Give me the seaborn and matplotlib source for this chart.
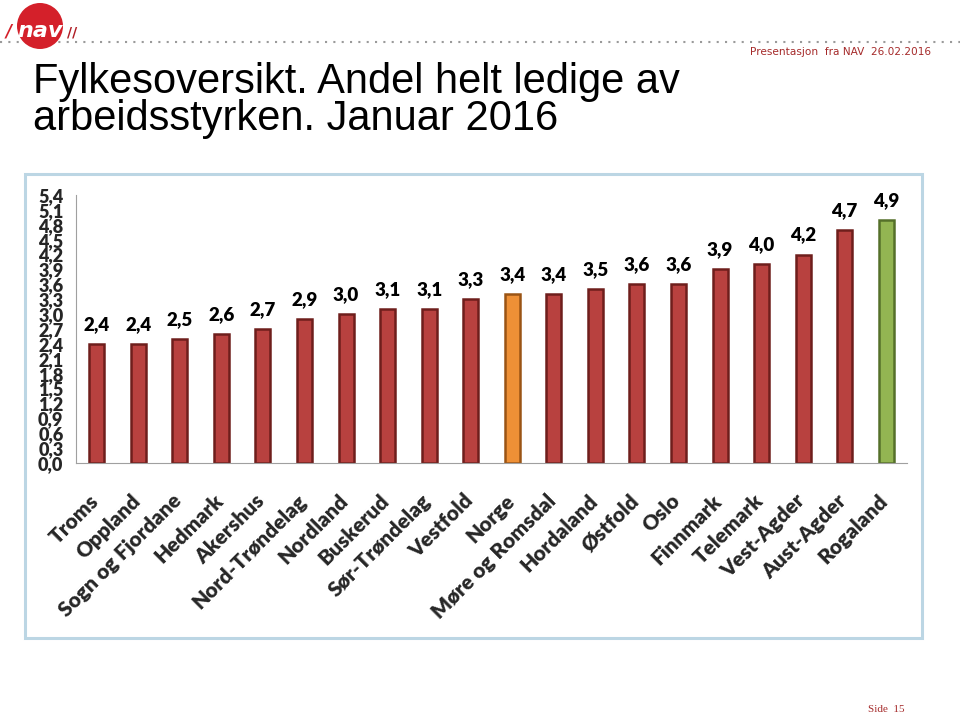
import matplotlib
matplotlib.use("Agg")
import matplotlib.pyplot as plt
import matplotlib.transforms as mtransforms
import seaborn as sns
import pandas as pd
from matplotlib.patches import Rectangle, Ellipse
from matplotlib.lines import Line2D

# ---- data ----
fylker = ["Troms", "Oppland", "Sogn og Fjordane", "Hedmark", "Akershus",
          "Nord-Trøndelag", "Nordland", "Buskerud", "Sør-Trøndelag", "Vestfold",
          "Norge", "Møre og Romsdal", "Hordaland", "Østfold", "Oslo",
          "Finnmark", "Telemark", "Vest-Agder", "Aust-Agder", "Rogaland"]
andel = [2.4, 2.4, 2.5, 2.6, 2.7, 2.9, 3.0, 3.1, 3.1, 3.3,
         3.4, 3.4, 3.5, 3.6, 3.6, 3.9, 4.0, 4.2, 4.7, 4.9]
y_ticks = [0.0, 0.3, 0.6, 0.9, 1.2, 1.5, 1.8, 2.1, 2.4, 2.7, 3.0,
           3.3, 3.6, 3.9, 4.2, 4.5, 4.8, 5.1, 5.4]
title = "Fylkesoversikt. Andel helt ledige av\narbeidsstyrken. Januar 2016"
header = "Presentasjon  fra NAV  26.02.2016"
page = "Side  15"

RED, RED_E = "#B8413F", "#6E1E1C"
ORA, ORA_E = "#EE9036", "#9A5414"
GRN, GRN_E = "#93B552", "#55702A"

def face(name):
    if name == "Norge":
        return ORA
    if name == "Rogaland":
        return GRN
    return RED

def edge(name):
    if name == "Norge":
        return ORA_E
    if name == "Rogaland":
        return GRN_E
    return RED_E

df = pd.DataFrame({"fylke": fylker, "andel": andel})

sns.set_theme(style="white")
FONT = ["Lato", "DejaVu Sans"]
plt.rcParams["font.family"] = FONT

W, H = 960, 717
fig = plt.figure(figsize=(9.6, 7.17), dpi=100)

def fx(px):
    return px / W

def fy(py):
    return 1 - py / H

# panel border
fig.patches.append(Rectangle((fx(25), fy(638)), fx(922) - fx(25), fy(174) - fy(638),
                             transform=fig.transFigure, fill=False,
                             edgecolor="#BCD6E4", linewidth=2.2, zorder=0))

ax = fig.add_axes([fx(76), fy(463), fx(907) - fx(76), fy(195) - fy(463)])
palette = {f: face(f) for f in fylker}
sns.barplot(data=df, x="fylke", y="andel", hue="fylke", palette=palette,
            width=0.36, legend=False, ax=ax, saturation=1)
for bar, f in zip(ax.patches, fylker):
    bar.set_edgecolor(edge(f))
    bar.set_linewidth(1.8)

for i, v in enumerate(andel):
    ax.annotate(f"{v:.1f}".replace(".", ","), (i, v), xytext=(0, 8),
                textcoords="offset points", ha="center", va="bottom",
                fontsize=13.5, fontweight="heavy", color="black")

ax.set_xlim(-0.5, len(fylker) - 0.5)
ax.set_ylim(0, 5.4)
ax.set_yticks(y_ticks)
ax.set_yticklabels([f"{t:.1f}".replace(".", ",") for t in y_ticks],
                   fontsize=13, fontweight="heavy")
ax.set_xticks(range(len(fylker)))
ax.set_xticklabels(fylker, rotation=45, ha="right", rotation_mode="anchor",
                   fontsize=15, fontweight="heavy")
ax.set_xticks([i - 0.5 for i in range(len(fylker) + 1)], minor=True)
ax.tick_params(axis="x", which="major", length=0, pad=20)
ax.tick_params(axis="x", which="minor", length=5, color="#A0A0A0", width=0.8, direction="out")
ax.tick_params(axis="y", length=5, color="#A0A0A0", width=0.8, direction="out", pad=4)
shift = mtransforms.ScaledTranslation(-8 / 100, 0, fig.dpi_scale_trans)
for lbl in ax.get_xticklabels():
    lbl.set_transform(lbl.get_transform() + shift)
ax.set_xlabel("")
ax.set_ylabel("")
for s in ["top", "right"]:
    ax.spines[s].set_visible(False)
for s in ["left", "bottom"]:
    ax.spines[s].set_color("#A0A0A0")
    ax.spines[s].set_linewidth(0.8)
ax.set_facecolor("none")

# header dotted line
fig.add_artist(Line2D([0, 1], [fy(42), fy(42)], transform=fig.transFigure,
                      color="#9A9A9A", linestyle=(0, (1, 3)), linewidth=1.5))
# logo
fig.patches.append(Ellipse((fx(40), fy(26)), fx(46), 46 / H, transform=fig.transFigure,
                           facecolor="#D4202A", edgecolor="none", zorder=5))
fig.text(fx(40), fy(31), "nav", color="white", fontsize=16, fontweight="bold",
         style="italic", ha="center", va="center", family="DejaVu Sans", zorder=6)
fig.text(fx(9), fy(32), "/", color="#D4202A", fontsize=12, fontweight="bold",
         style="italic", ha="center", va="center", family="DejaVu Sans")
fig.text(fx(72), fy(32), "//", color="#B01E26", fontsize=10, fontweight="bold",
         ha="center", va="center", family="DejaVu Sans")

fig.text(fx(931), fy(52), header, color="#A52A2A", fontsize=7.6,
         ha="right", va="center", family="DejaVu Sans")
fig.text(fx(33), fy(62), title, color="black", fontsize=30, ha="left", va="top",
         family="Liberation Sans", linespacing=0.9)
fig.text(fx(905), fy(709), page, color="#A52A2A", fontsize=8,
         ha="right", va="center", family="Liberation Serif")

fig.savefig("out.png", dpi=100)
